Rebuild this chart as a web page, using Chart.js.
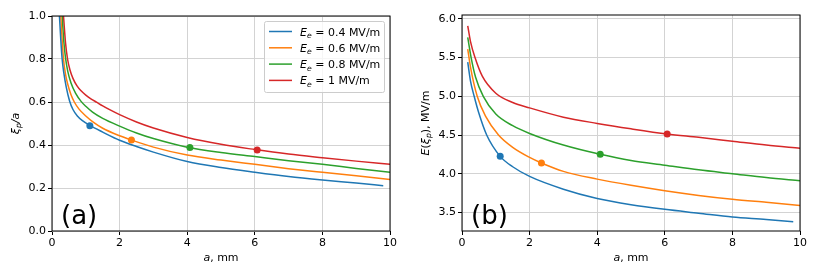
<!DOCTYPE html>
<html>
<head>
<meta charset="utf-8">
<script src="https://cdn.jsdelivr.net/npm/chart.js@4"></script>
<style>
  body { margin: 0; background: #fff; }
  #wrap { position: relative; width: 813px; height: 269px; }
  canvas { position: absolute; top: 0; }
</style>
</head>
<body>
<div id="wrap">
  <canvas id="chart-a" width="410" height="269" style="left:0"></canvas>
  <canvas id="chart-b" width="403" height="269" style="left:410px"></canvas>
</div>
<script>
// field strengths E_e, MV/m
const FIELDS = ['0.4', '0.6', '0.8', '1'];
const COLORS = ['#1f77b4', '#ff7f0e', '#2ca02c', '#d62728'];

// (a) xi_p / a vs a (mm)
const A_L04 = [0.22, 0.26, 0.30, 0.35, 0.42, 0.52, 0.62, 0.75, 0.9, 1.13, 1.5, 2, 2.5, 3, 4, 5, 6, 7, 8, 9, 9.8];
const R_L04 = [1.0, 0.89, 0.80, 0.735, 0.67, 0.605, 0.565, 0.535, 0.513, 0.49, 0.46, 0.422, 0.393, 0.367, 0.323, 0.295, 0.273, 0.253, 0.237, 0.223, 0.211];
const A_L06 = [0.26, 0.30, 0.34, 0.40, 0.47, 0.56, 0.66, 0.8, 1.0, 1.23, 1.5, 2, 2.35, 3, 4, 5, 6, 7, 8, 9, 10];
const R_L06 = [1.0, 0.89, 0.80, 0.73, 0.68, 0.635, 0.60, 0.567, 0.535, 0.505, 0.478, 0.443, 0.423, 0.39, 0.353, 0.33, 0.31, 0.29, 0.273, 0.257, 0.24];
const A_L08 = [0.30, 0.35, 0.40, 0.47, 0.56, 0.7, 0.86, 1.0, 1.2, 1.5, 2, 2.5, 3, 4, 5, 6, 7, 8, 9, 10];
const R_L08 = [1.0, 0.88, 0.805, 0.74, 0.69, 0.64, 0.603, 0.58, 0.553, 0.524, 0.488, 0.456, 0.43, 0.39, 0.365, 0.346, 0.327, 0.31, 0.291, 0.273];
const A_L10 = [0.34, 0.40, 0.46, 0.53, 0.62, 0.74, 0.86, 1.0, 1.15, 1.33, 1.5, 1.72, 2, 2.5, 3, 4, 5, 6, 7, 8, 9, 10];
const R_L10 = [1.0, 0.875, 0.80, 0.75, 0.71, 0.675, 0.652, 0.632, 0.615, 0.598, 0.582, 0.563, 0.541, 0.507, 0.479, 0.435, 0.403, 0.379, 0.358, 0.341, 0.325, 0.31];
const MARK_A_L = [1.12, 2.35, 4.08, 6.07];
const MARK_R_L = [0.49, 0.423, 0.388, 0.377];

// (b) E(xi_p), MV/m vs a (mm)
const A_R04 = [0.17, 0.25, 0.36, 0.5, 0.73, 1.13, 1.5, 2, 3, 4, 5, 6, 7, 8, 9, 9.8];
const E_R04 = [5.44, 5.2, 5.0, 4.78, 4.5, 4.224, 4.09, 3.965, 3.80, 3.68, 3.60, 3.54, 3.49, 3.44, 3.41, 3.38];
const A_R06 = [0.17, 0.25, 0.45, 0.7, 1.08, 1.5, 2, 2.35, 3, 4, 5, 6, 7, 8, 9, 10];
const E_R06 = [5.61, 5.38, 5.0, 4.74, 4.5, 4.34, 4.21, 4.138, 4.03, 3.93, 3.85, 3.78, 3.72, 3.67, 3.63, 3.59];
const A_R08 = [0.17, 0.27, 0.4, 0.63, 1.0, 1.5, 2, 3, 4.09, 5, 6, 7, 8, 9, 10];
const E_R08 = [5.76, 5.5, 5.25, 5.0, 4.77, 4.62, 4.52, 4.37, 4.25, 4.17, 4.11, 4.05, 4.0, 3.95, 3.91];
const A_R10 = [0.17, 0.25, 0.385, 0.6, 1.0, 1.5, 2, 3, 4, 5, 6.07, 7, 8, 9, 10];
const E_R10 = [5.91, 5.71, 5.5, 5.26, 5.04, 4.92, 4.85, 4.73, 4.65, 4.58, 4.513, 4.47, 4.42, 4.37, 4.33];
const MARK_A_R = [1.13, 2.35, 4.09, 6.07];
const MARK_E_R = [4.224, 4.138, 4.25, 4.513];

const X_TICKS = [0, 2, 4, 6, 8, 10];
const Y_TICKS_L = [0.0, 0.2, 0.4, 0.6, 0.8, 1.0];
const Y_TICKS_R = [3.5, 4.0, 4.5, 5.0, 5.5, 6.0];

const FONT = '"DejaVu Sans", sans-serif';
Chart.defaults.font.family = FONT;
Chart.defaults.color = '#000';

// mathtext-ish text: parts with italic / subscript flags
function _font(p, size) {
  const s = p.sub ? size * 0.7 : size;
  return (p.i ? 'italic ' : '') + s + 'px ' + FONT;
}
function _richWidth(ctx, parts, size) {
  let w = 0;
  for (const p of parts) { ctx.font = _font(p, size); w += ctx.measureText(p.t).width; }
  return w;
}
function _drawRich(ctx, parts, x, y, size, center) {
  let cx = center ? x - _richWidth(ctx, parts, size) / 2 : x;
  ctx.textAlign = 'left';
  ctx.textBaseline = 'alphabetic';
  for (const p of parts) {
    ctx.font = _font(p, size);
    ctx.fillText(p.t, cx, y + (p.sub ? size * 0.22 : 0));
    cx += ctx.measureText(p.t).width;
  }
}

function _makeDatasets(aArrs, vArrs, markA, markV) {
  const lines = aArrs.map((a, i) => ({
    data: a.map((x, j) => ({ x, y: vArrs[i][j] })),
    borderColor: COLORS[i],
    borderWidth: 1.5,
    pointRadius: 0,
    cubicInterpolationMode: 'monotone',
    fill: false,
    clip: 0,
  }));
  const marks = markA.map((x, i) => ({
    data: [{ x, y: markV[i] }],
    showLine: false,
    pointRadius: 3.5,
    pointBackgroundColor: COLORS[i],
    pointBorderWidth: 0,
    clip: 0,
  }));
  return lines.concat(marks);
}

function _scales(yMin, yMax, yTicks) {
  const tickFont = { family: FONT, size: 11 };
  const grid = { color: '#d3d3d3', lineWidth: 1, tickColor: '#000', tickLength: 4 };
  return {
    x: {
      type: 'linear', min: 0, max: 10,
      afterBuildTicks: s => { s.ticks = X_TICKS.map(v => ({ value: v })); },
      ticks: { font: tickFont, color: '#000', padding: 2, maxRotation: 0, callback: v => String(v) },
      grid, border: { display: false },
      afterFit: s => { s.height = 38; },
    },
    y: {
      type: 'linear', min: yMin, max: yMax,
      afterBuildTicks: s => { s.ticks = yTicks.map(v => ({ value: v })); },
      ticks: { font: tickFont, color: '#000', padding: 2, callback: v => Number(v).toFixed(1) },
      grid, border: { display: false },
      afterFit: s => { s.width = 52; },
    },
  };
}

function _decor(yTitle, panel, withLegend) {
  return {
    id: 'decor',
    afterDraw(chart) {
      const { ctx, chartArea: ca } = chart;
      ctx.save();
      ctx.strokeStyle = '#000';
      ctx.lineWidth = 1;
      ctx.strokeRect(ca.left, ca.top, ca.right - ca.left, ca.bottom - ca.top);
      ctx.fillStyle = '#000';
      _drawRich(ctx, [{ t: 'a', i: 1 }, { t: ', mm' }], (ca.left + ca.right) / 2, 261, 11, true);
      ctx.save();
      ctx.translate(15, (ca.top + ca.bottom) / 2);
      ctx.rotate(-Math.PI / 2);
      _drawRich(ctx, yTitle, 0, 4, 11, true);
      ctx.restore();
      ctx.font = '26px ' + FONT;
      ctx.textAlign = 'left';
      ctx.textBaseline = 'alphabetic';
      ctx.fillText(panel, 61, 224);
      if (withLegend) {
        ctx.fillStyle = 'rgba(255,255,255,0.8)';
        ctx.strokeStyle = '#cccccc';
        ctx.beginPath();
        ctx.roundRect(264.5, 21.5, 120, 71, 2);
        ctx.fill();
        ctx.stroke();
        const ys = [31.5, 47.8, 64.1, 80.4];
        FIELDS.forEach((f, i) => {
          ctx.strokeStyle = COLORS[i];
          ctx.lineWidth = 1.5;
          ctx.beginPath();
          ctx.moveTo(269, ys[i]);
          ctx.lineTo(292, ys[i]);
          ctx.stroke();
          ctx.fillStyle = '#000';
          _drawRich(ctx, [{ t: 'E', i: 1 }, { t: 'e', i: 1, sub: 1 }, { t: ' = ' + f + ' MV/m' }], 300, ys[i] + 4, 11, false);
        });
      }
      ctx.restore();
    },
  };
}

function _build(id, datasets, scales, padding, plugin) {
  return new Chart(document.getElementById(id), {
    type: 'line',
    data: { datasets },
    options: {
      responsive: false,
      animation: false,
      devicePixelRatio: 1,
      layout: { padding },
      scales,
      plugins: { legend: { display: false }, tooltip: { enabled: false } },
    },
    plugins: [plugin],
  });
}

_build('chart-a',
  _makeDatasets([A_L04, A_L06, A_L08, A_L10], [R_L04, R_L06, R_L08, R_L10], MARK_A_L, MARK_R_L),
  _scales(0, 1, Y_TICKS_L),
  { top: 16, right: 20, bottom: 0, left: 0 },
  _decor([{ t: 'ξ', i: 1 }, { t: 'p', i: 1, sub: 1 }, { t: '/a', i: 1 }], '(a)', true));

_build('chart-b',
  _makeDatasets([A_R04, A_R06, A_R08, A_R10], [E_R04, E_R06, E_R08, E_R10], MARK_A_R, MARK_E_R),
  _scales(3.26, 6.05, Y_TICKS_R),
  { top: 15, right: 13, bottom: 0, left: 0 },
  _decor([{ t: 'E', i: 1 }, { t: '(' }, { t: 'ξ', i: 1 }, { t: 'p', i: 1, sub: 1 }, { t: '), MV/m' }], '(b)', false));
</script>
</body>
</html>
